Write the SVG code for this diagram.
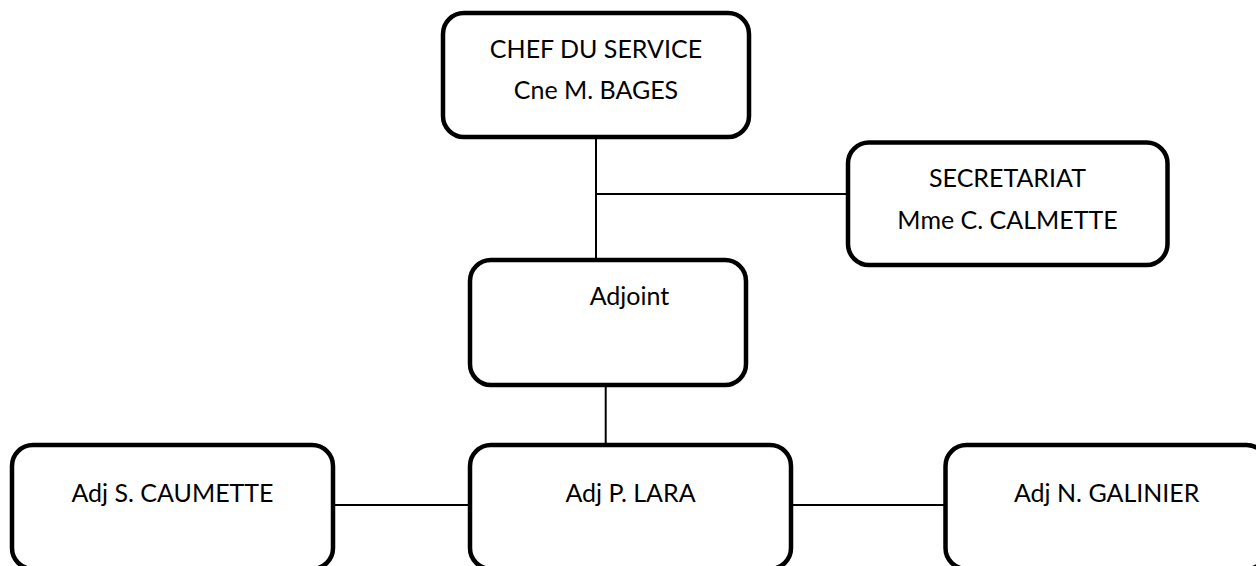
<svg xmlns="http://www.w3.org/2000/svg" width="1256" height="566" viewBox="0 0 1256 566">
<style>
.box{fill:#fff;stroke:#000;stroke-width:4.5}
.conn{fill:none;stroke:#000;stroke-width:2}
text{font-family:"Lato","Open Sans","Liberation Sans",sans-serif;font-size:25px;fill:#000;text-anchor:middle}
</style>
<rect width="1256" height="566" fill="#fff"/>
<g id="connectors">
<line class="conn" x1="596" y1="137" x2="596" y2="260"/>
<line class="conn" x1="596" y1="194" x2="848" y2="194"/>
<line class="conn" x1="605.7" y1="385" x2="605.7" y2="445"/>
<line class="conn" x1="333" y1="505" x2="470" y2="505"/>
<line class="conn" x1="791" y1="505" x2="945.5" y2="505"/>
</g>
<g id="chef">
<rect class="box" x="443" y="13" width="306" height="124" rx="21"/>
<text x="596" y="58">CHEF DU SERVICE</text>
<text x="596" y="99">Cne M. BAGES</text>
</g>
<g id="secretariat">
<rect class="box" x="848" y="142.5" width="319.5" height="122.5" rx="21"/>
<text x="1007.5" y="187">SECRETARIAT</text>
<text x="1007.5" y="229">Mme C. CALMETTE</text>
</g>
<g id="adjoint">
<rect class="box" x="470" y="260" width="276" height="125" rx="21"/>
<text x="629.5" y="305">Adjoint</text>
</g>
<g id="caumette">
<rect class="box" x="12" y="445" width="321" height="124" rx="21"/>
<text x="172.5" y="502">Adj S. CAUMETTE</text>
</g>
<g id="lara">
<rect class="box" x="470" y="445" width="321" height="124" rx="21"/>
<text x="630.5" y="502">Adj P. LARA</text>
</g>
<g id="galinier">
<rect class="box" x="945.5" y="445" width="322" height="124" rx="21"/>
<text x="1106.7" y="502">Adj N. GALINIER</text>
</g>
</svg>
